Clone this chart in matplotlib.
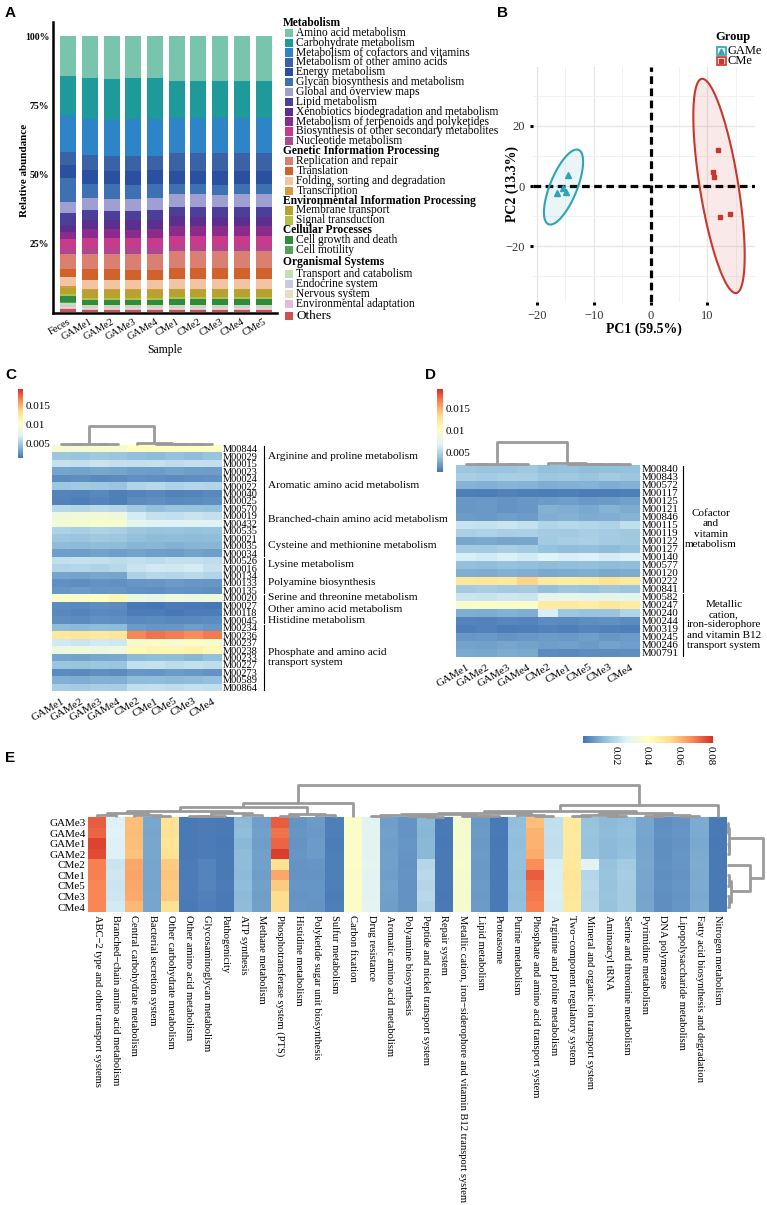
import numpy as np
import matplotlib
matplotlib.use("Agg")
import matplotlib.pyplot as plt
from matplotlib.colors import LinearSegmentedColormap
from matplotlib.patches import Rectangle, Polygon
from matplotlib.transforms import blended_transform_factory

plt.rcParams['font.family'] = ['Liberation Serif', 'DejaVu Serif']

# ---------------- Panel A: KEGG level-2 relative abundance ----------------
samples_a = ['Feces', 'GAMe1', 'GAMe2', 'GAMe3', 'GAMe4', 'CMe1', 'CMe2', 'CMe3', 'CMe4', 'CMe5']
kegg_groups = ['Metabolism', 'Genetic Information Processing', 'Environmental Information Processing',
               'Cellular Processes', 'Organismal Systems']
pathways_a = ['Amino acid metabolism', 'Carbohydrate metabolism', 'Metabolism of cofactors and vitamins',
              'Metabolism of other amino acids', 'Energy metabolism', 'Glycan biosynthesis and metabolism',
              'Global and overview maps', 'Lipid metabolism', 'Xenobiotics biodegradation and metabolism',
              'Metabolism of terpenoids and polyketides', 'Biosynthesis of other secondary metabolites',
              'Nucleotide metabolism',
              'Replication and repair', 'Translation', 'Folding, sorting and degradation', 'Transcription',
              'Membrane transport', 'Signal transduction',
              'Cell growth and death', 'Cell motility',
              'Transport and catabolism', 'Endocrine system', 'Nervous system', 'Environmental adaptation',
              'Others']
pathway_group = [0] * 12 + [1] * 4 + [2] * 2 + [3] * 2 + [4] * 4 + [-1]
pathway_colors = ['#79c4ac', '#1e9a9b', '#2d84c6', '#3c62a6', '#2a51a0', '#3d71b2',
                  '#a09fd2', '#4b3f9a', '#5b2f8d', '#8b2b8b', '#c83a8c', '#b04591',
                  '#d98072', '#d1622b', '#f1c4a4', '#d59a3b',
                  '#b8a031', '#b3c242',
                  '#2e8b3f', '#55a05a',
                  '#c3dfb4', '#cacbe3', '#e8ddc2', '#e9b9d9',
                  '#d2504f']
# percent, columns follow samples_a
abundance_a = np.array([
    [14.6, 15.3, 15.5, 15.4, 15.4, 16.4, 16.5, 16.3, 16.4, 16.5],
    [14.1, 15.0, 15.0, 15.1, 15.0, 13.5, 13.4, 13.6, 13.5, 13.4],
    [13.5, 13.2, 13.3, 13.2, 13.3, 12.6, 12.7, 12.6, 12.7, 12.6],
    [4.8, 5.4, 5.3, 5.5, 5.4, 6.6, 6.5, 6.6, 6.5, 6.6],
    [4.9, 5.0, 5.0, 5.1, 5.0, 4.8, 4.8, 4.9, 4.8, 4.8],
    [8.7, 5.2, 5.3, 5.2, 5.2, 3.6, 3.7, 3.6, 3.6, 3.7],
    [4.0, 4.3, 4.3, 4.4, 4.3, 4.5, 4.5, 4.4, 4.5, 4.5],
    [4.5, 3.5, 3.6, 3.5, 3.5, 3.6, 3.6, 3.7, 3.6, 3.6],
    [2.4, 3.4, 3.3, 3.4, 3.4, 3.4, 3.4, 3.3, 3.4, 3.4],
    [2.6, 3.2, 3.2, 3.2, 3.3, 3.6, 3.6, 3.6, 3.5, 3.6],
    [3.6, 3.4, 3.4, 3.3, 3.4, 3.6, 3.6, 3.6, 3.7, 3.6],
    [1.8, 2.4, 2.4, 2.4, 2.4, 2.0, 2.0, 2.0, 2.0, 2.0],
    [5.4, 5.7, 5.6, 5.7, 5.7, 6.1, 6.1, 6.0, 6.1, 6.1],
    [3.1, 3.8, 3.8, 3.8, 3.8, 4.1, 4.1, 4.1, 4.0, 4.1],
    [3.4, 3.4, 3.4, 3.4, 3.4, 3.4, 3.4, 3.4, 3.4, 3.4],
    [0.4, 0.3, 0.3, 0.3, 0.3, 0.3, 0.3, 0.3, 0.3, 0.3],
    [2.4, 3.0, 3.0, 3.0, 3.0, 2.8, 2.8, 2.8, 2.8, 2.8],
    [0.7, 0.6, 0.6, 0.6, 0.6, 0.8, 0.8, 0.8, 0.8, 0.8],
    [2.2, 1.8, 1.8, 1.8, 1.8, 2.0, 2.0, 2.0, 2.0, 2.0],
    [0.4, 0.2, 0.2, 0.2, 0.2, 0.2, 0.2, 0.2, 0.2, 0.2],
    [0.8, 0.6, 0.6, 0.6, 0.6, 0.6, 0.6, 0.6, 0.6, 0.6],
    [0.7, 0.4, 0.4, 0.4, 0.4, 0.4, 0.4, 0.4, 0.4, 0.4],
    [0.4, 0.3, 0.3, 0.3, 0.3, 0.3, 0.3, 0.3, 0.3, 0.3],
    [0.4, 0.3, 0.3, 0.3, 0.3, 0.3, 0.3, 0.3, 0.3, 0.3],
    [1.0, 0.9, 0.9, 0.9, 0.9, 0.9, 0.9, 0.9, 0.9, 0.9],
])

# ---------------- Panel B: PCA ----------------
game_pc1 = [-14.6, -16.4, -15.4, -14.9]
game_pc2 = [3.8, -2.4, -0.8, -2.0]
cme_pc1 = [11.9, 11.0, 11.1, 12.3, 14.0]
cme_pc2 = [12.0, 4.5, 3.1, -10.2, -9.3]

# ---------------- Panel C: amino acid modules ----------------
hm_cols = ['GAMe1', 'GAMe2', 'GAMe3', 'GAMe4', 'CMe2', 'CMe1', 'CMe5', 'CMe3', 'CMe4']
c_rows = ['M00844', 'M00029', 'M00015', 'M00023', 'M00024', 'M00022', 'M00040', 'M00025', 'M00570',
          'M00019', 'M00432', 'M00535', 'M00021', 'M00035', 'M00034', 'M00526', 'M00016', 'M00134',
          'M00133', 'M00135', 'M00020', 'M00027', 'M00118', 'M00045', 'M00234', 'M00236', 'M00237',
          'M00238', 'M00233', 'M00227', 'M00273', 'M00589', 'M00864']
c_groups = ['Arginine and proline metabolism', 'Aromatic amino acid metabolism',
            'Branched-chain amino acid metabolism', 'Cysteine and methionine metabolism',
            'Lysine metabolism', 'Polyamine biosynthesis', 'Serine and threonine metabolism',
            'Other amino acid metabolism', 'Histidine metabolism',
            'Phosphate and amino acid\ntransport system']
c_group_sizes = [3, 5, 4, 3, 2, 3, 1, 2, 1, 9]
# x 1e-3
c_vals = np.array([
    [9.2, 9.0, 9.4, 9.3, 10.2, 10.4, 10.1, 10.3, 10.0],
    [4.6, 4.4, 4.7, 4.5, 4.2, 4.0, 4.3, 4.1, 4.4],
    [6.2, 6.0, 6.3, 6.1, 6.0, 6.2, 5.9, 6.1, 6.0],
    [3.0, 2.9, 3.1, 3.0, 2.8, 2.7, 2.9, 2.8, 2.7],
    [2.0, 2.1, 1.9, 2.0, 2.2, 2.1, 2.0, 2.1, 2.2],
    [4.6, 4.8, 4.7, 4.5, 5.4, 5.6, 5.3, 5.5, 5.4],
    [1.7, 1.6, 1.8, 1.5, 1.7, 1.8, 1.6, 1.7, 1.8],
    [1.6, 1.5, 1.7, 1.5, 2.0, 2.1, 1.9, 2.0, 2.1],
    [5.6, 5.4, 5.7, 5.5, 4.8, 4.2, 4.5, 4.4, 4.3],
    [8.6, 8.8, 8.9, 8.7, 6.8, 6.2, 6.0, 6.3, 6.1],
    [9.2, 9.4, 9.6, 9.5, 7.8, 7.4, 7.2, 7.5, 7.3],
    [5.2, 5.0, 5.3, 5.1, 4.6, 4.4, 4.5, 4.3, 4.4],
    [4.6, 4.5, 4.7, 4.6, 4.2, 4.0, 4.1, 4.0, 4.1],
    [4.0, 3.9, 4.1, 4.0, 3.7, 3.8, 3.6, 3.7, 3.8],
    [2.8, 2.7, 2.9, 2.8, 2.9, 2.8, 2.7, 2.9, 2.8],
    [6.0, 6.2, 6.1, 5.9, 6.0, 5.8, 6.1, 6.0, 5.9],
    [5.4, 5.5, 5.3, 5.6, 6.3, 6.6, 6.5, 6.8, 6.2],
    [3.0, 2.9, 3.1, 3.0, 5.2, 5.6, 5.5, 5.7, 5.4],
    [2.2, 2.1, 2.3, 2.2, 2.4, 2.5, 2.6, 2.5, 2.4],
    [2.5, 2.6, 2.4, 2.5, 2.2, 2.1, 2.3, 2.2, 2.1],
    [9.8, 9.6, 10.0, 11.0, 8.4, 8.2, 8.5, 8.3, 8.6],
    [2.0, 1.9, 2.1, 2.0, 1.2, 1.1, 1.3, 1.2, 1.1],
    [1.8, 1.7, 1.9, 1.8, 1.3, 1.4, 1.2, 1.3, 1.4],
    [2.1, 2.0, 2.2, 2.1, 1.9, 2.0, 1.8, 1.9, 2.0],
    [4.0, 3.9, 4.1, 4.0, 2.6, 2.4, 2.5, 2.7, 2.4],
    [12.4, 12.6, 12.3, 12.8, 16.6, 17.2, 16.9, 16.4, 17.0],
    [6.6, 6.4, 6.7, 6.5, 9.4, 9.6, 9.2, 9.8, 9.5],
    [8.4, 8.6, 8.3, 8.5, 10.8, 11.2, 11.0, 11.4, 10.9],
    [3.0, 2.9, 3.1, 3.2, 3.9, 4.1, 4.0, 3.8, 4.2],
    [4.5, 4.4, 4.6, 4.5, 6.0, 6.2, 5.8, 6.1, 5.9],
    [2.0, 1.9, 2.1, 2.0, 2.5, 2.4, 2.6, 2.5, 2.3],
    [3.5, 3.4, 3.6, 3.5, 4.0, 4.1, 3.9, 4.0, 4.2],
    [5.0, 4.9, 5.1, 5.0, 6.0, 6.1, 5.9, 6.2, 6.0],
]) * 1e-3
c_tree = (1.0, (0.06, (0.03, 0, 1), (0.04, 2, 3)), (0.08, 4, (0.06, 5, (0.05, 6, (0.03, 7, 8)))))

# ---------------- Panel D: cofactor / metallic cation modules ----------------
d_rows = ['M00840', 'M00843', 'M00572', 'M00117', 'M00125', 'M00121', 'M00846', 'M00115', 'M00119',
          'M00122', 'M00127', 'M00140', 'M00577', 'M00120', 'M00222', 'M00841', 'M00582', 'M00247',
          'M00240', 'M00244', 'M00319', 'M00245', 'M00246', 'M00791']
d_groups = ['Cofactor\nand\nvitamin\nmetabolism',
            'Metallic\ncation,\niron-siderophore\nand vitamin B12\ntransport system']
d_group_sizes = [16, 8]
d_vals = np.array([
    [4.2, 4.0, 4.1, 4.3, 3.8, 3.9, 3.7, 3.8, 3.9],
    [4.6, 4.5, 4.7, 4.6, 4.2, 4.3, 4.1, 4.4, 4.2],
    [3.2, 3.1, 3.3, 3.2, 3.0, 3.1, 3.2, 3.0, 3.1],
    [1.0, 0.9, 1.1, 1.0, 0.9, 1.0, 0.8, 0.9, 1.0],
    [2.0, 2.1, 1.9, 2.0, 2.2, 2.3, 2.1, 2.2, 2.4],
    [2.0, 2.1, 1.9, 2.0, 3.1, 3.0, 2.8, 3.2, 2.9],
    [2.2, 2.1, 2.3, 2.2, 3.0, 3.1, 2.9, 3.0, 3.2],
    [5.9, 5.8, 6.0, 5.7, 5.0, 5.2, 5.1, 4.9, 5.6],
    [4.8, 4.9, 4.7, 4.8, 4.5, 4.4, 4.6, 4.5, 4.3],
    [2.7, 2.8, 2.6, 2.7, 4.4, 4.6, 4.8, 4.5, 4.3],
    [4.5, 4.4, 4.6, 4.5, 3.9, 3.7, 3.8, 3.6, 3.9],
    [6.6, 6.4, 6.7, 6.3, 6.9, 6.6, 6.8, 6.5, 6.7],
    [3.8, 3.7, 3.9, 3.8, 3.6, 3.7, 3.8, 3.6, 3.7],
    [3.0, 2.9, 3.1, 3.0, 2.8, 2.9, 3.0, 2.8, 2.9],
    [12.4, 12.6, 12.3, 13.6, 12.2, 11.9, 12.1, 12.8, 12.3],
    [4.5, 4.6, 4.4, 4.5, 3.8, 4.2, 4.0, 4.3, 4.1],
    [6.0, 5.9, 6.1, 6.0, 7.4, 7.6, 7.2, 7.5, 7.3],
    [9.4, 9.6, 9.3, 9.5, 12.0, 12.2, 11.8, 12.4, 11.9],
    [3.0, 2.9, 3.1, 3.0, 6.6, 4.2, 4.0, 4.1, 5.0],
    [1.2, 1.1, 1.3, 1.2, 1.5, 1.4, 1.6, 1.7, 1.5],
    [1.0, 1.1, 0.9, 1.0, 1.1, 1.0, 1.2, 1.1, 1.0],
    [2.0, 2.1, 1.9, 2.0, 2.2, 2.1, 2.3, 2.0, 2.2],
    [2.5, 2.4, 2.6, 2.5, 2.3, 2.4, 2.2, 2.5, 2.3],
    [2.8, 2.7, 2.9, 2.8, 1.5, 1.4, 1.6, 1.5, 1.6],
]) * 1e-3
d_tree = (1.0, (0.05, (0.03, 0, 1), (0.04, 2, 3)), (0.07, 4, (0.05, 5, (0.04, 6, (0.03, 7, 8)))))

# ---------------- Panel E: KEGG module categories ----------------
e_rows = ['GAMe3', 'GAMe4', 'GAMe1', 'GAMe2', 'CMe2', 'CMe1', 'CMe5', 'CMe3', 'CMe4']
e_cols = ['ABC\u22122 type and other transport systems', 'Branched\u2212chain amino acid metabolism',
          'Central carbohydrate metabolism', 'Bacterial secretion system', 'Other carbohydrate metabolism',
          'Other amino acid metabolism', 'Glycosaminoglycan metabolism', 'Pathogenicity', 'ATP synthesis',
          'Methane metabolism', 'Phosphotransferase system (PTS)', 'Histidine metabolism',
          'Polyketide sugar unit biosynthesis', 'Sulfur metabolism', 'Carbon fixation', 'Drug resistance',
          'Aromatic amino acid metabolism', 'Polyamine biosynthesis', 'Peptide and nickel transport system',
          'Repair system', 'Metallic cation, iron\u2212siderophore and vitamin B12 transport system',
          'Lipid metabolism', 'Proteasome', 'Purine metabolism', 'Phosphate and amino acid transport system',
          'Arginine and proline metabolism', 'Two\u2212component regulatory system',
          'Mineral and organic ion transport system', 'Aminoacyl tRNA', 'Serine and threonine metabolism',
          'Pyrimidine metabolism', 'DNA polymerase', 'Lipopolysaccharide metabolism',
          'Fatty acid biosynthesis and degradation', 'Nitrogen metabolism']
# one list per category (columns), values per sample in e_rows order, x 1e-3
e_vals_by_col = [
    [75, 74, 79, 78, 70, 70, 69, 69, 69],
    [27, 27.5, 27, 27.2, 24, 24.5, 24, 24.2, 25],
    [60, 60.5, 60, 59.5, 64, 64.5, 64, 63.5, 61],
    [9.5, 9.2, 9.4, 9.3, 9.0, 9.1, 8.9, 9.0, 9.2],
    [53, 53.5, 52, 53, 58, 59, 58, 58.5, 54],
    [1.2, 1.0, 1.1, 1.0, 1.5, 1.4, 1.6, 1.3, 1.2],
    [1.5, 1.4, 1.6, 1.5, 3.0, 3.2, 2.9, 2.4, 2.2],
    [1.0, 1.1, 0.9, 1.0, 1.2, 1.1, 1.3, 1.2, 1.1],
    [13.0, 13.5, 12.8, 13.2, 13.4, 13.0, 13.6, 13.1, 13.3],
    [8.0, 8.2, 7.9, 8.1, 8.3, 8.0, 8.2, 7.8, 8.1],
    [75, 72, 74, 80, 54, 64, 58, 55, 55],
    [6.0, 6.2, 5.9, 6.1, 5.8, 6.0, 6.2, 5.9, 6.1],
    [7.2, 7.0, 7.3, 7.1, 6.2, 6.0, 6.3, 6.1, 6.0],
    [2.0, 2.1, 1.9, 2.0, 2.2, 2.0, 2.1, 1.9, 2.0],
    [39, 39.2, 38.8, 39, 39.1, 38.6, 39, 38.9, 39.2],
    [28.5, 28.8, 28.6, 28.7, 29, 28.4, 28.8, 28.6, 28.9],
    [8.0, 8.2, 7.9, 8.1, 8.3, 8.0, 8.4, 8.1, 8.0],
    [6.0, 5.9, 6.1, 6.0, 5.6, 5.8, 5.5, 5.7, 5.6],
    [12.5, 12.3, 12.8, 12.6, 20.0, 20.5, 19.8, 20.2, 19.5],
    [1.0, 1.1, 0.9, 1.0, 1.2, 1.0, 1.1, 0.9, 1.0],
    [37, 37.2, 36.8, 37, 37.5, 37, 37.1, 37.2, 37],
    [7.0, 7.2, 6.9, 7.1, 6.8, 7.0, 7.2, 6.9, 7.1],
    [1.0, 1.1, 0.9, 1.0, 1.1, 1.0, 1.2, 1.1, 1.0],
    [14.0, 14.2, 13.8, 14.1, 14.3, 14.0, 14.2, 13.9, 14.1],
    [60, 62, 62, 63, 68, 75, 72, 71, 70],
    [22, 22.3, 22, 22.2, 26, 26.5, 26, 26.3, 26],
    [50, 50.5, 50, 50.3, 51, 52, 52, 51.5, 51],
    [15, 15.3, 15, 15.2, 28, 20, 20.5, 20, 20.3],
    [13, 13.2, 13, 13.1, 15, 15.3, 15, 15.2, 15],
    [14, 14.2, 14, 14.1, 17, 17.3, 17, 17.2, 17],
    [9.0, 9.2, 8.9, 9.1, 9.3, 9.0, 9.2, 8.9, 9.1],
    [5.0, 5.2, 4.9, 5.1, 5.3, 5.0, 5.2, 4.9, 5.1],
    [6.0, 6.2, 5.9, 6.1, 6.3, 6.0, 6.2, 5.9, 6.1],
    [10.0, 10.2, 9.9, 10.1, 10.3, 10.0, 10.2, 9.9, 10.1],
    [1.0, 1.1, 0.9, 1.0, 1.1, 1.0, 1.2, 1.1, 1.0],
]
e_col_tree = (1.0,
              (0.44, (0.33, (0.2, (0.12, (0.06, 0, 1), (0.08, 2, (0.04, 3, 4))),
                                  (0.14, (0.05, (0.03, 5, 6), 7), (0.06, 8, 9))),
                             (0.1, (0.05, 10, 11), (0.06, 12, 13))), 14),
              (0.375, (0.2, (0.14, (0.1, (0.06, (0.03, 15, 16), (0.04, 17, (0.02, 18, 19))),
                                         (0.05, 20, (0.03, 21, 22))),
                                  (0.07, 23, (0.04, 24, 25))),
                             (0.12, (0.06, (0.03, 26, 27), (0.04, 28, 29)),
                                    (0.08, (0.05, 30, 31), (0.04, 32, 33)))), 34))
e_row_tree = (1.0, (0.07, (0.04, 0, 1), (0.05, 2, 3)), (0.64, 4, (0.12, (0.05, 5, 6), (0.06, 7, 8))))

# ---------------- figure ----------------
W, H = 767, 1205
fig = plt.figure(figsize=(W / 100, H / 100), dpi=100)
heat_cmap = LinearSegmentedColormap.from_list(
    'rdylbu_r', ['#4575B4', '#91BFDB', '#E0F3F8', '#FFFFBF', '#FEE090', '#FC8D59', '#D73027'])
tree_col = '#9a9a9a'


def px_axes(x0, y0, x1, y1):
    return fig.add_axes([x0 / W, 1 - y1 / H, (x1 - x0) / W, (y1 - y0) / H])


def draw_tree(ax, node, orient='top'):
    if isinstance(node, int):
        return node, 0.0
    h, left, right = node
    pl, hl = draw_tree(ax, left, orient)
    pr, hr = draw_tree(ax, right, orient)
    if orient == 'top':
        ax.plot([pl, pl, pr, pr], [hl, h, h, hr], color=tree_col, lw=2, clip_on=False,
                solid_capstyle='butt')
    else:
        ax.plot([hl, h, h, hr], [pl, pl, pr, pr], color=tree_col, lw=2, clip_on=False,
                solid_capstyle='butt')
    return (pl + pr) / 2, h


def heatmap(ax, vals, vmin, vmax):
    im = ax.imshow(vals, cmap=heat_cmap, vmin=vmin, vmax=vmax, aspect='auto', interpolation='nearest')
    for s in ax.spines.values():
        s.set_visible(False)
    return im


def brackets(ax, names, sizes, xline, xtexts, fs, ha='left'):
    tr = blended_transform_factory(ax.transAxes, ax.transData)
    start = 0
    for name, n, xt in zip(names, sizes, xtexts):
        r0, r1 = start, start + n - 1
        ax.plot([xline, xline], [r0 - 0.4, r1 + 0.4], color='black', lw=0.8, transform=tr, clip_on=False)
        ax.text(xt, (r0 + r1) / 2, name, transform=tr, ha=ha, va='center', fontsize=fs,
                linespacing=1.2, multialignment=ha)
        start += n


def col_bar(cax, im, ticks, labels, horizontal=False):
    cb = fig.colorbar(im, cax=cax, orientation='horizontal' if horizontal else 'vertical')
    cb.outline.set_visible(False)
    cb.set_ticks(ticks)
    if horizontal:
        cax.set_xticklabels(labels, rotation=-90, fontsize=8)
    else:
        cax.set_yticklabels(labels, fontsize=8)
    cax.tick_params(length=0, pad=2)
    return cb


ov = px_axes(0, 0, W, H)
ov.set_xlim(0, W)
ov.set_ylim(H, 0)
ov.axis('off')
for letter, (lx, ly) in zip('ABCDE', [(10, 13), (503, 13), (11, 375), (430, 375), (10, 758)]):
    ov.text(lx, ly, letter, fontsize=11, fontweight='bold', family=['Liberation Sans', 'DejaVu Sans'],
            ha='center', va='center')

# ---- A ----
axA = px_axes(53.3, 21.7, 276.7, 313.3)
frac = abundance_a / abundance_a.sum(axis=0) * 100
xa = np.arange(len(samples_a))
bottom = np.zeros(len(samples_a))
for i in range(len(pathways_a) - 1, -1, -1):
    axA.bar(xa, frac[i], bottom=bottom, width=0.736, color=pathway_colors[i], linewidth=0)
    bottom += frac[i]
axA.set_xlim(-0.68, 9.6)
axA.set_ylim(-0.4, 105.2)
axA.set_yticks([25, 50, 75, 100])
axA.set_yticklabels(['25%', '50%', '75%', '100%'], fontweight='bold', fontsize=7)
axA.set_xticks(xa)
axA.set_xticklabels(samples_a, rotation=30, ha='right', rotation_mode='anchor', fontsize=7.5)
axA.tick_params(length=0, pad=3)
for s in ['top', 'right']:
    axA.spines[s].set_visible(False)
for s in ['left', 'bottom']:
    axA.spines[s].set_linewidth(1.8)
axA.set_ylabel('Relative abundance', fontweight='bold', fontsize=8)
axA.yaxis.set_label_coords(-0.11, 0.49)
axA.set_xlabel('Sample', fontsize=8.5, labelpad=1)

# legend of A
hdr_gap_before = [0, 10.0, 9.9, 9.6, 12.5]
hdr_gap_after = [9.9, 9.9, 9.9, 10.0, 12.0]
y = 23.0
for g, gname in enumerate(kegg_groups):
    y += hdr_gap_before[g]
    ov.text(283, y, gname, fontsize=8.3, fontweight='bold', ha='left', va='center')
    y += hdr_gap_after[g]
    members = [k for k in range(len(pathways_a)) if pathway_group[k] == g]
    for j, k in enumerate(members):
        if j > 0:
            y += 9.85
        ov.add_patch(Rectangle((285, y - 4.2), 8, 8.4, color=pathway_colors[k], lw=0))
        ov.text(296.5, y, pathways_a[k], fontsize=8.3, ha='left', va='center')
y += 12
ov.add_patch(Rectangle((285, y - 4.2), 8, 8.4, color=pathway_colors[-1], lw=0))
ov.text(296.5, y, pathways_a[-1], fontsize=9.5, ha='left', va='center')

# ---- B ----
axB = px_axes(533, 67, 755, 302)
axB.set_xlim(-20.7, 18.4)
axB.set_ylim(-38.5, 39.5)
axB.set_xticks([-20, -10, 0, 10])
axB.set_yticks([-20, 0, 20])
axB.set_xticks([-15, -5, 5, 15], minor=True)
axB.set_yticks([-30, -10, 10, 30], minor=True)
axB.grid(which='major', color='#e6e6e6', lw=0.9)
axB.grid(which='minor', color='#f0f0f0', lw=0.6)
axB.set_axisbelow(True)
for s in axB.spines.values():
    s.set_visible(False)
axB.tick_params(which='major', length=2, width=2.2, color='black', labelsize=9, labelcolor='#333333', pad=4)
axB.tick_params(which='minor', length=0)
axB.axvline(0, color='black', lw=2.3, ls=(0, (2.4, 1.4)), zorder=2)
axB.axhline(0, color='black', lw=2.3, ls=(0, (2.4, 1.4)), zorder=2)


def ellipse_pts(xs, ys, level=0.95, n=200):
    xs = np.asarray(xs, float)
    ys = np.asarray(ys, float)
    d2 = len(xs) - 1
    fq = d2 / 2 * ((1 - level) ** (-2 / d2) - 1)   # F(level; 2, n-1)
    r = np.sqrt(2 * fq)
    chol = np.linalg.cholesky(np.cov(xs, ys))
    t = np.linspace(0, 2 * np.pi, n)
    circ = np.vstack([np.cos(t), np.sin(t)])
    pts = (chol @ circ) * r
    return np.column_stack([pts[0] + xs.mean(), pts[1] + ys.mean()])


teal, red = '#2fa4b6', '#c9372c'
for xs, ys, col, mk, ms in [(game_pc1, game_pc2, teal, '^', 4), (cme_pc1, cme_pc2, red, 's', 3)]:
    axB.add_patch(Polygon(ellipse_pts(xs, ys), closed=True, facecolor=col, alpha=0.1, lw=0, zorder=3))
    axB.add_patch(Polygon(ellipse_pts(xs, ys), closed=True, fill=False, edgecolor=col, lw=1.5, zorder=4))
    axB.plot(xs, ys, ls='none', marker=mk, ms=ms, color=col, zorder=5)
axB.set_xlabel('PC1 (59.5%)', fontweight='bold', fontsize=10, labelpad=0)
axB.set_ylabel('PC2 (13.3%)', fontweight='bold', fontsize=10)
axB.yaxis.set_label_coords(-0.064, 0.5)

ov.text(733, 37, 'Group', fontsize=9, fontweight='bold', ha='center', va='center')
for (lab, col, mk, ms), ky in zip([('GAMe', teal, '^', 3.5), ('CMe', red, 's', 2.5)], [51, 61]):
    ov.add_patch(Rectangle((717, ky - 4.3), 8.6, 8.6, facecolor=col, alpha=0.12, lw=0))
    ov.add_patch(Rectangle((717, ky - 4.3), 8.6, 8.6, fill=False, edgecolor=col, lw=1.2))
    ov.plot([721.3], [ky], marker=mk, ms=ms, color=col)
    ov.text(728, ky, lab, fontsize=9, ha='left', va='center')

# ---- C ----
axC = px_axes(51.7, 445, 221.7, 691)
imC = heatmap(axC, c_vals, 0.001, 0.0195)
axC.yaxis.tick_right()
axC.set_yticks(range(len(c_rows)))
axC.set_yticklabels(c_rows, fontsize=7.5)
axC.set_xticks(range(len(hm_cols)))
axC.set_xticklabels(hm_cols, rotation=30, ha='right', rotation_mode='anchor', fontsize=8)
axC.tick_params(length=0, pad=1)
axC.tick_params(axis='x', pad=4)
brackets(axC, c_groups, c_group_sizes, 1.249, [1.272] * len(c_groups), 8.2)
dC = px_axes(51.7, 425.7, 221.7, 445)
draw_tree(dC, c_tree)
dC.set_xlim(-0.5, 8.5)
dC.set_ylim(0, 1)
dC.axis('off')
col_bar(px_axes(18, 389, 23, 458), imC, [0.005, 0.01, 0.015], ['0.005', '0.01', '0.015'])

# ---- D ----
axD = px_axes(456, 465, 640, 657)
imD = heatmap(axD, d_vals, 0.0005, 0.0195)
axD.yaxis.tick_right()
axD.set_yticks(range(len(d_rows)))
axD.set_yticklabels(d_rows, fontsize=7.8)
axD.set_xticks(range(len(hm_cols)))
axD.set_xticklabels(hm_cols, rotation=30, ha='right', rotation_mode='anchor', fontsize=8)
axD.tick_params(length=0, pad=1)
axD.tick_params(axis='x', pad=4)
brackets(axD, d_groups, d_group_sizes, 1.234, [(711 - 456) / 184, (724 - 456) / 184], 8, ha='center')
dD = px_axes(456, 441.7, 640, 465)
draw_tree(dD, d_tree)
dD.set_xlim(-0.5, 8.5)
dD.set_ylim(0, 1)
dD.axis('off')
col_bar(px_axes(437, 389, 443, 472), imD, [0.005, 0.01, 0.015], ['0.005', '0.01', '0.015'])

# ---- E ----
e_vals = np.array(e_vals_by_col).T * 1e-3
axE = px_axes(88.3, 817.3, 726.7, 912.3)
imE = heatmap(axE, e_vals, 0.0, 0.082)
axE.set_yticks(range(len(e_rows)))
axE.set_yticklabels(e_rows, fontsize=8)
axE.set_xticks(range(len(e_cols)))
axE.set_xticklabels(e_cols, rotation=-90, ha='center', va='top', fontsize=7.6)
axE.tick_params(length=0, pad=2)
dEc = px_axes(88.3, 785, 726.7, 817.3)
draw_tree(dEc, e_col_tree)
dEc.set_xlim(-0.5, len(e_cols) - 0.5)
dEc.set_ylim(0, 1)
dEc.axis('off')
dEr = px_axes(726.7, 817.3, 763, 912.3)
draw_tree(dEr, e_row_tree, orient='right')
dEr.set_xlim(0, 1)
dEr.set_ylim(len(e_rows) - 0.5, -0.5)
dEr.axis('off')
col_bar(px_axes(583, 736, 713, 743), imE, [0.02, 0.04, 0.06, 0.08], ['0.02', '0.04', '0.06', '0.08'],
        horizontal=True)

fig.savefig('out.png', dpi=100)
